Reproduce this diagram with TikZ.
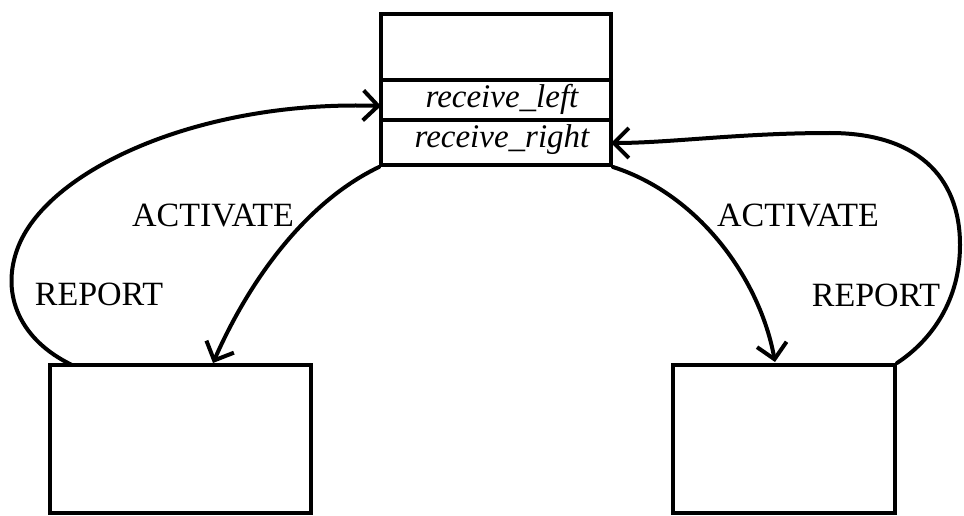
\documentclass[tikz,border=0pt]{standalone}
\usepackage{fontspec}
\setmainfont{Liberation Serif}
\usetikzlibrary{arrows.meta}
\begin{document}
\begin{tikzpicture}[x=1pt,y=-1pt,
  box/.style={draw, line width=4pt, inner sep=0pt, rectangle},
  conn/.style={line width=4pt, line cap=round, line join=round},
  arr/.style={conn, -{Straight Barb[length=15pt,width=30pt,line width=4pt]}},
  lbl/.style={font=\fontsize{34}{40}\selectfont, inner sep=0pt},
  itl/.style={font=\fontsize{33}{38}\selectfont\itshape, inner sep=0pt}]
\useasboundingbox (0,0) rectangle (964,516);

% boxes
\node[box, minimum width=230pt, minimum height=151pt] (top) at (496,89.5) {};
\node[box, minimum width=261pt, minimum height=148pt] (lbox) at (180.5,439) {};
\node[box, minimum width=222pt, minimum height=148pt] (rbox) at (784,439) {};

% compartments of top box
\coordinate (s1l) at (381,80);  \coordinate (s1r) at (611,80);
\coordinate (s2l) at (381,120); \coordinate (s2r) at (611,120);
\draw[conn] (s1l) -- (s1r);
\draw[conn] (s2l) -- (s2r);
\node[itl] (rl) at (502,99) {receive\_left};
\node[itl] (rr) at (502,140) {receive\_right};

% endpoints
\coordinate (lrepS) at (72,365);
\coordinate (lrepE) at (381,106);
\coordinate (lactE) at (213,363);
\coordinate (ractE) at (775,362);
\coordinate (rrepE) at (611,143);

% left REPORT
\draw[arr] (lrepS) .. controls (20,340) and (1,295) .. (17,250)
  .. controls (45,170) and (200,100) .. (lrepE);
% left ACTIVATE
\draw[arr] (top.south west) .. controls (300,205) and (245,290) .. (lactE);
% right ACTIVATE
\draw[arr] (top.south east) .. controls (700,195) and (760,280) .. (ractE);
% right REPORT
\draw[arr] (rbox.north east) .. controls (932,340) and (960,300) .. (960,245)
  .. controls (960,175) and (915,133) .. (830,133)
  .. controls (740,133) and (670,143) .. (rrepE);

% labels
\node[lbl] (la) at (213,216) {ACTIVATE};
\node[lbl] (lr) at (99,294) {REPORT};
\node[lbl] (ra) at (798,216) {ACTIVATE};
\node[lbl] (rrp) at (876,295) {REPORT};
\end{tikzpicture}
\end{document}
